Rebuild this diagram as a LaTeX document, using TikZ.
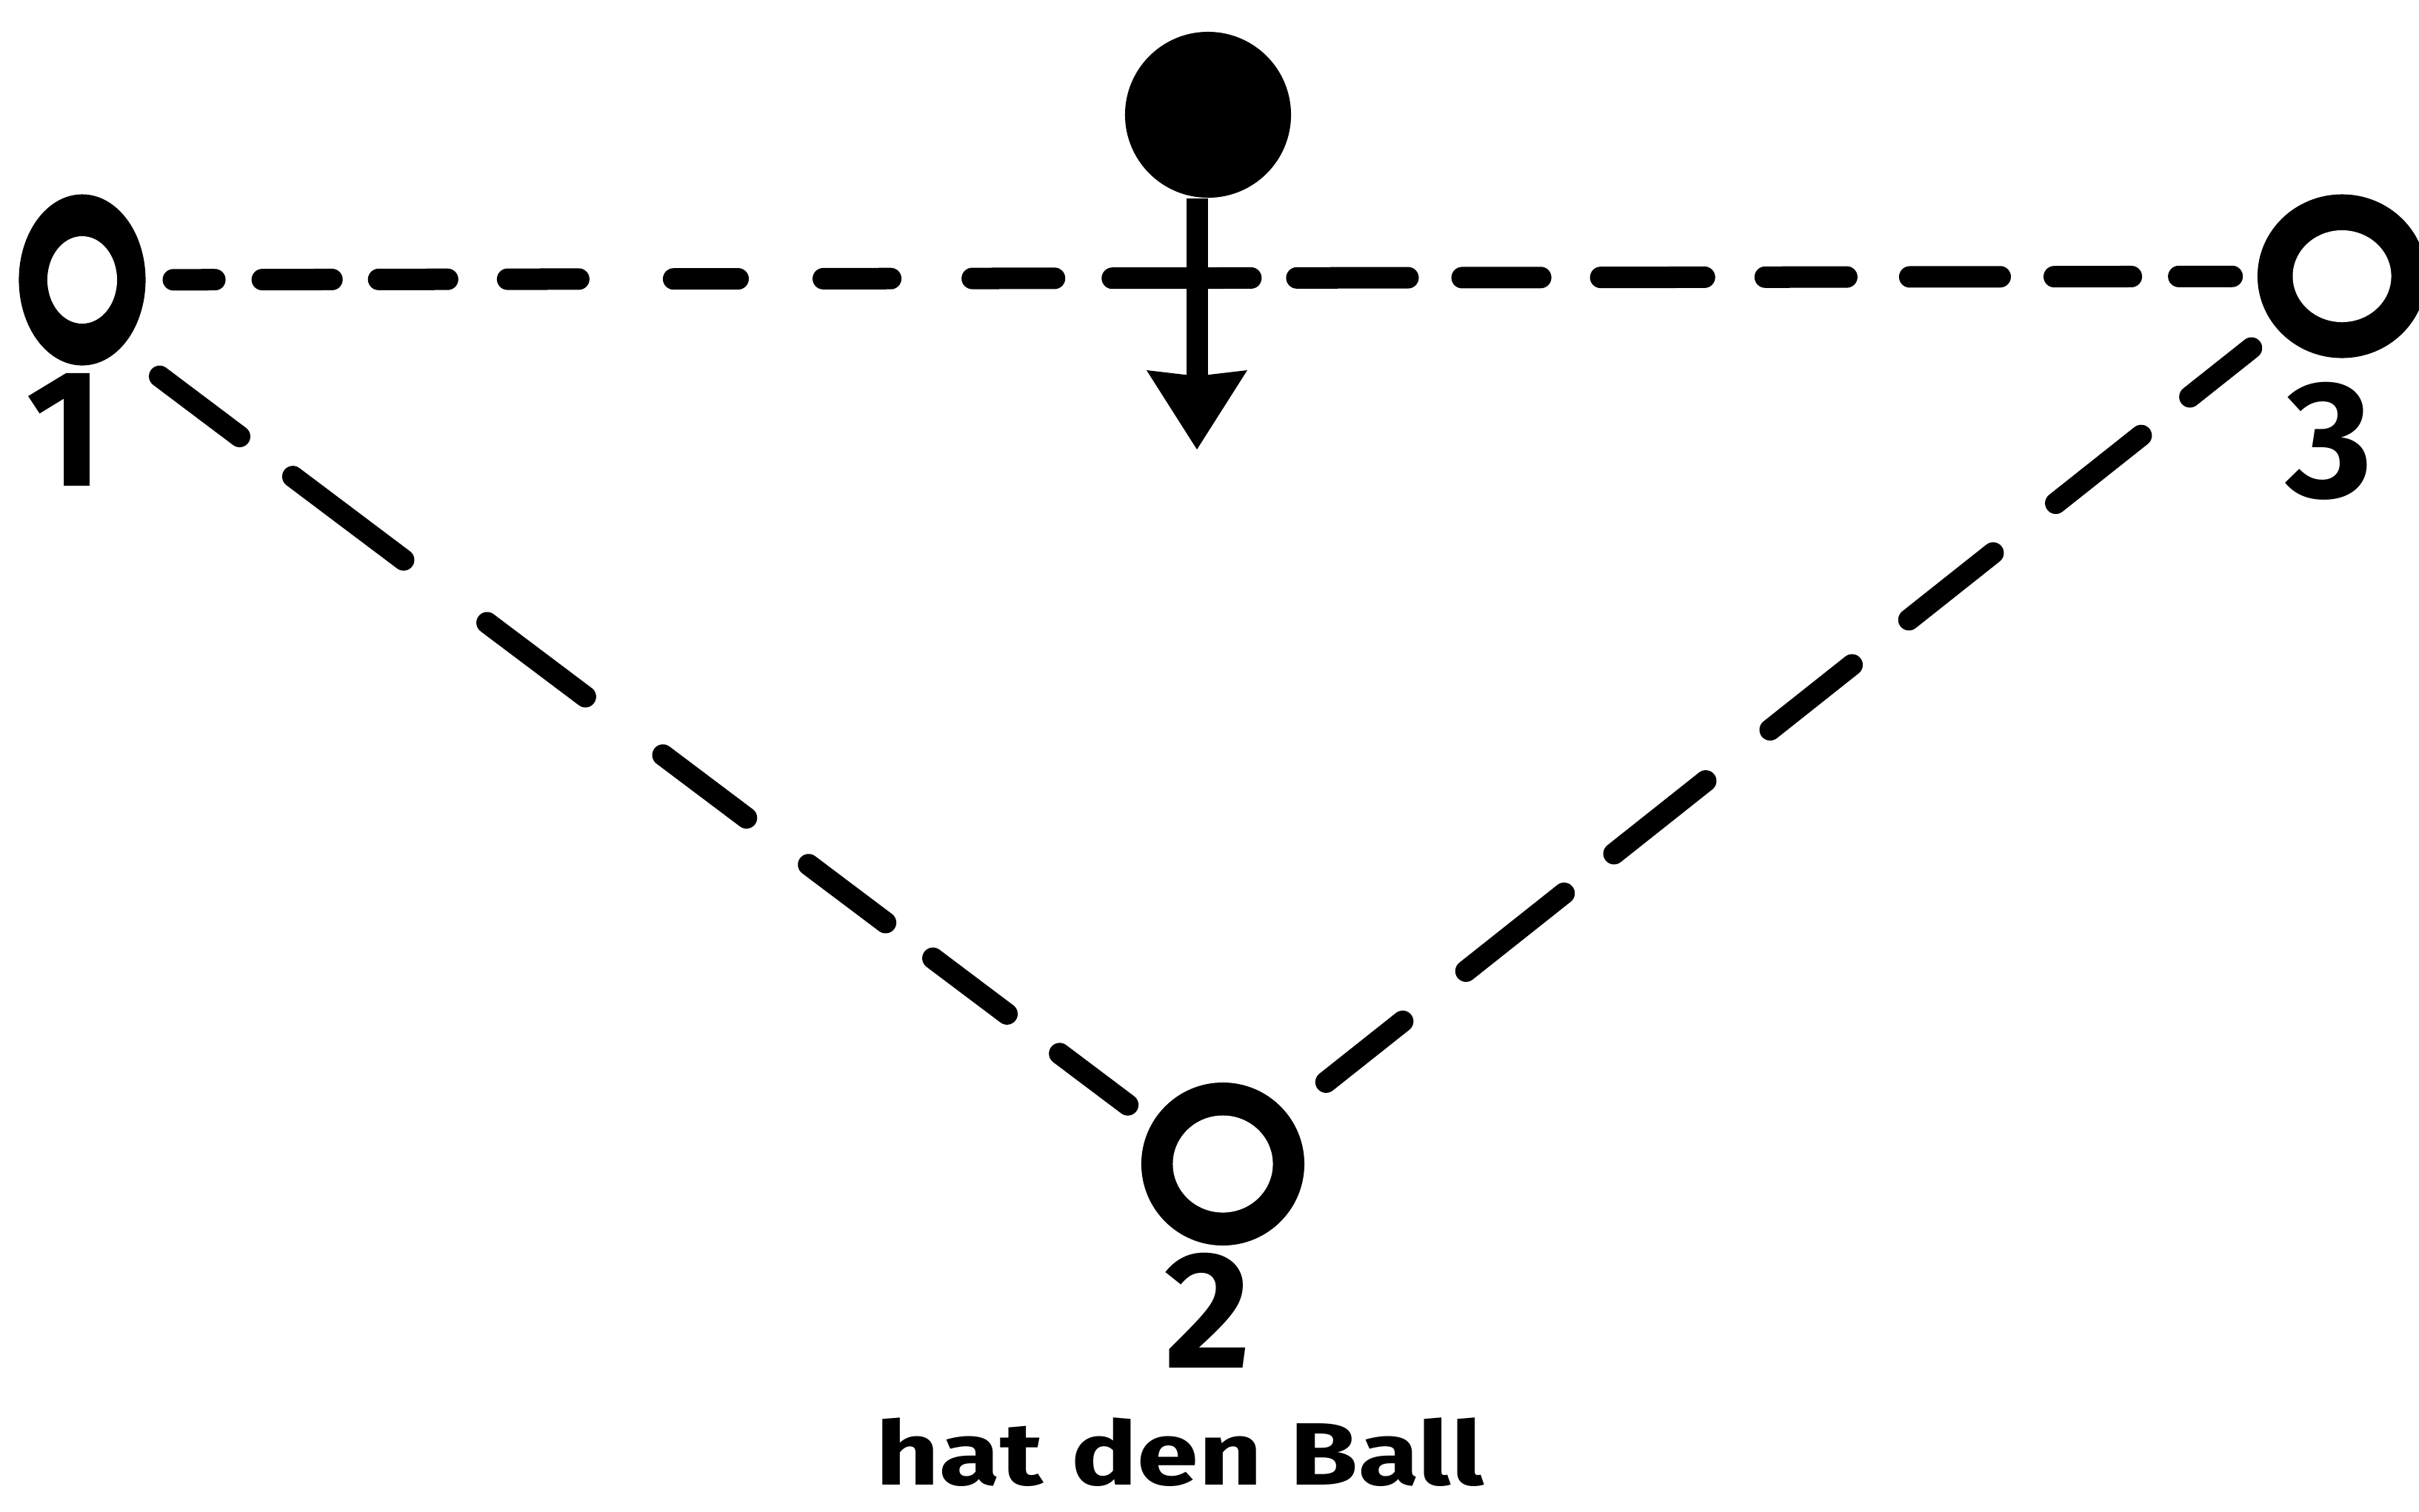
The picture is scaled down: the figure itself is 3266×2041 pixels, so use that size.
\documentclass[tikz,border=0pt]{standalone}
\usepackage{fontspec}
\usepackage{graphicx}
\setmainfont{Fira Sans}
\usetikzlibrary{arrows.meta,shapes.geometric}
\begin{document}
\begin{tikzpicture}[x=0.01cm,y=-0.01cm,
  ring/.style n args={4}{ellipse, fill=black, draw=none, inner sep=0pt, outer sep=0pt,
    minimum width=#1, minimum height=#2,
    path picture={\fill[white] (path picture bounding box.center) ellipse [x radius=#3, y radius=#4];}},
  ballnode/.style={circle, fill=black, draw=none, inner sep=0pt, minimum size=2.24cm},
  digit/.style={font=\bfseries\fontsize{64}{64}\selectfont, inner sep=0pt},
  caption/.style={font=\bfseries\fontsize{34}{34}\selectfont, inner sep=0pt, anchor=base},
  pass/.style={line width=0.29cm, line cap=round, black},
]
\useasboundingbox (0,0) rectangle (3266,2041);
\fill[white] (0,0) rectangle (3266,2041);

% players
\node[ring={1.71cm}{2.31cm}{0.47cm}{0.59cm}] (n1) at (111,378) {};
\node[ring={2.20cm}{2.20cm}{0.675cm}{0.655cm}] (n2) at (1651,1572) {};
\node[ring={2.28cm}{2.21cm}{0.665cm}{0.62cm}] (n3) at (3162,373) {};

% labels
\node[digit] (l1) at (88,580) {1};
\node[digit] (l2) at (1631,1770) {2};
\node[digit] (l3) at (3145,596) {3};
\node[caption] (cap) at (1593,2005) {\scalebox{1.25}[1]{hat\hspace{0.3cm}den\hspace{0.3cm}Ball}};

% passing lanes
\draw[pass, shorten <=1.23cm,
  dash pattern=on 0.56cm off 0.64cm on 0.94cm off 0.63cm on 0.93cm off 0.81cm on 0.96cm off 1.28cm on 0.87cm off 1.15cm on 0.91cm off 1.10cm on 1.11cm off 0.78cm on 1.87cm off 0.62cm on 1.50cm off 0.73cm on 1.06cm off 0.81cm on 1.40cm off 0.82cm on 1.10cm off 0.85cm on 1.22cm off 0.73cm on 1.04cm off 0.64cm on 0.72cm off 5cm]
  (n1.center) -- (n3.center);
\draw[pass, shorten <=0.65cm,
  dash pattern=on 1.35cm off 0.90cm on 1.87cm off 1.41cm on 1.66cm off 1.31cm on 1.41cm off 1.05cm on 1.30cm off 0.80cm on 1.25cm off 0.89cm on 1.15cm off 3cm]
  (n1.-60) -- (n2.150);
\draw[pass, shorten <=1.56cm,
  dash pattern=on 1.06cm off 0.84cm on 1.47cm off 1.08cm on 1.45cm off 0.98cm on 1.41cm off 1.11cm on 1.58cm off 0.86cm on 1.69cm off 1.09cm on 1.32cm off 3cm]
  (n3.center) -- (n2.center);

% ball and its path
\node[ballnode] (ball) at (1631,155) {};
\coordinate (tip) at (1616,607);
\draw[line width=0.29cm, -{Stealth[length=1.07cm, width=1.36cm, inset=0.08cm, line width=0pt]}]
  (ball.south -| tip) -- (tip);
\end{tikzpicture}
\end{document}
